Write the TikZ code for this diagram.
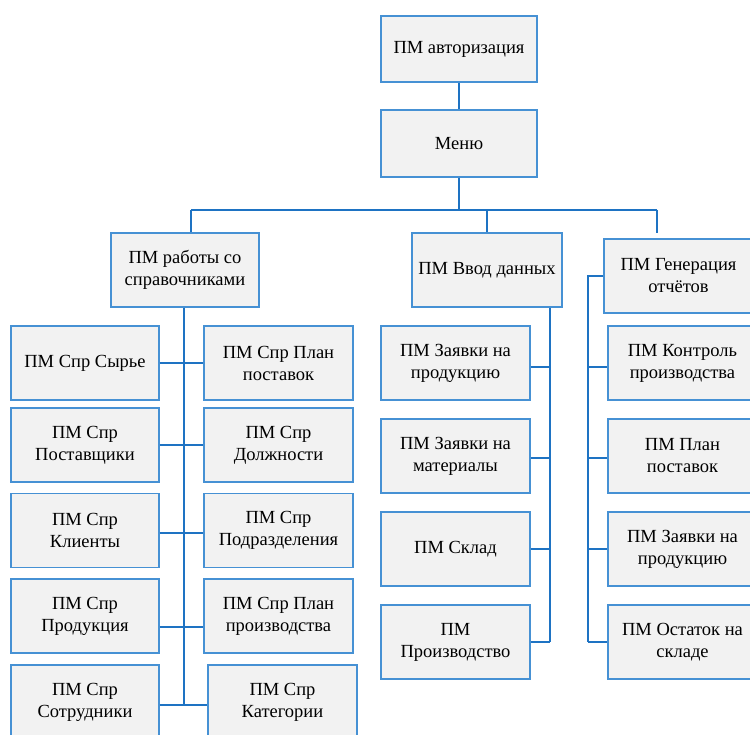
\documentclass[tikz,border=0pt]{standalone}
\usepackage{fontspec}
\setmainfont{Liberation Serif}
\definecolor{boxline}{RGB}{70,145,212}
\definecolor{boxfill}{RGB}{242,242,242}
\definecolor{wire}{RGB}{30,115,195}
\begin{document}
\begin{tikzpicture}[x=1pt,y=-1pt,
  pm/.style={draw=boxline, line width=1.4pt, fill=boxfill, align=center,
    minimum width=149pt, minimum height=74pt, inner sep=2pt,
    font=\fontsize{18.5}{22}\selectfont},
  wirestyle/.style={draw=wire, line width=1.4pt}]
\useasboundingbox (0,0) rectangle (750,735);
\clip (0,0) rectangle (750,735);

% top of the hierarchy
\node[pm, minimum width=156pt, minimum height=66pt] (auth) at (459,49) {ПМ авторизация};
\node[pm, minimum width=156pt, minimum height=67pt] (menu) at (459,143.5) {Меню};

% second level
\node[pm, minimum width=148pt] (spr) at (185,270) {ПМ работы со\\справочниками};
\node[pm, minimum width=150pt] (vvod) at (487,270) {ПМ Ввод данных};
\node[pm] (gen) at (678.5,276) {ПМ Генерация\\отчётов};

% reference-book modules, left column
\node[pm, minimum width=148pt] (l1) at (85,363)   {ПМ Спр Сырье};
\node[pm, minimum width=148pt] (l2) at (85,445)   {ПМ Спр\\Поставщики};
\node[pm, minimum width=148pt] (l3) at (85,530.5) {ПМ Спр\\Клиенты};
\node[pm, minimum width=148pt] (l4) at (85,616)   {ПМ Спр\\Продукция};
\node[pm, minimum width=148pt] (l5) at (85,702)   {ПМ Спр\\Сотрудники};

% reference-book modules, right column
\node[pm] (r1) at (278.5,363)   {ПМ Спр План\\поставок};
\node[pm] (r2) at (278.5,445)   {ПМ Спр\\Должности};
\node[pm] (r3) at (278.5,530.5) {ПМ Спр\\Подразделения};
\node[pm] (r4) at (278.5,616)   {ПМ Спр План\\производства};
\node[pm] (r5) at (282.5,702)   {ПМ Спр\\Категории};

% data entry modules
\node[pm] (m1) at (455.5,363) {ПМ Заявки на\\продукцию};
\node[pm] (m2) at (455.5,456) {ПМ Заявки на\\материалы};
\node[pm] (m3) at (455.5,549) {ПМ Склад};
\node[pm] (m4) at (455.5,642) {ПМ\\Производство};

% report modules
\node[pm] (g1) at (682.5,363) {ПМ Контроль\\производства};
\node[pm] (g2) at (682.5,456) {ПМ План\\поставок};
\node[pm] (g3) at (682.5,549) {ПМ Заявки на\\продукцию};
\node[pm] (g4) at (682.5,642) {ПМ Остаток на\\складе};

% junction points
\coordinate (busL) at (191,210);
\coordinate (busR) at (657,210);
\coordinate (genTop) at (657,233);
\coordinate (sprEnd) at (184,705);
\coordinate (vvodEnd) at (550,642);
\coordinate (genTrunk) at (588,276);
\coordinate (genEnd) at (588,642);
\coordinate (j1) at (0,363);
\coordinate (j2) at (0,445);
\coordinate (j3) at (0,533);
\coordinate (j4) at (0,627);
\coordinate (j5) at (0,705);
\coordinate (k1) at (0,367);
\coordinate (k2) at (0,458);
\coordinate (k3) at (0,549);
\coordinate (k4) at (0,642);

% main spine
\draw[wirestyle] (auth) -- (menu);
\draw[wirestyle] (menu.south) -- (menu.south |- busL);
\draw[wirestyle] (busL) -- (busR);
\draw[wirestyle] (busL) -- (busL |- spr.north);
\draw[wirestyle] (vvod.north |- busL) -- (vvod.north);
\draw[wirestyle] (busR) -- (genTop);

% reference-book branch
\draw[wirestyle] (spr.south -| sprEnd) -- (sprEnd);
\draw[wirestyle] (l1.east |- j1) -- (r1.west |- j1);
\draw[wirestyle] (l2.east |- j2) -- (r2.west |- j2);
\draw[wirestyle] (l3.east |- j3) -- (r3.west |- j3);
\draw[wirestyle] (l4.east |- j4) -- (r4.west |- j4);
\draw[wirestyle] (l5.east |- j5) -- (r5.west |- j5);

% data entry branch
\draw[wirestyle] (vvod.south -| vvodEnd) -- (vvodEnd);
\foreach \b/\k in {m1/k1, m2/k2, m3/k3, m4/k4}
  \draw[wirestyle] (\b.east |- \k) -- (vvodEnd |- \k);

% report branch
\draw[wirestyle] (gen.west |- genTrunk) -- (genTrunk) -- (genEnd);
\foreach \b/\k in {g1/k1, g2/k2, g3/k3, g4/k4}
  \draw[wirestyle] (genEnd |- \k) -- (\b.west |- \k);
\end{tikzpicture}
\end{document}
